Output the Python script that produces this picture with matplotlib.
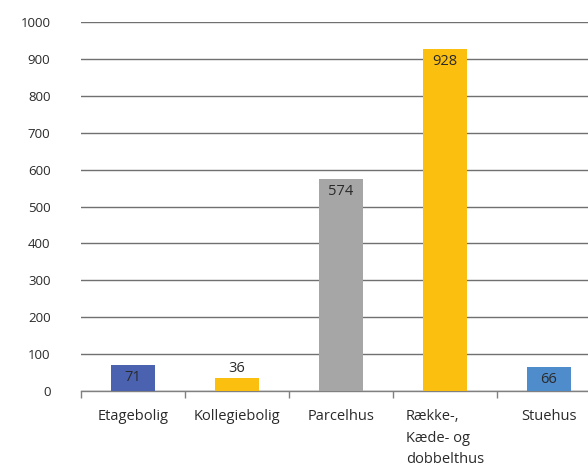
import matplotlib
matplotlib.use("Agg")
import matplotlib.pyplot as plt

categories = ["Etagebolig", "Kollegiebolig", "Parcelhus", "Række-,\nKæde- og\ndobbelthus", "Stuehus"]
values = [71, 36, 574, 928, 66]
colors = ["#4a62b0", "#fbbf10", "#a6a6a6", "#fbbf10", "#4f8ccb"]
yticks = [0, 100, 200, 300, 400, 500, 600, 700, 800, 900, 1000]

plt.rcParams['font.family'] = ['Open Sans', 'DejaVu Sans']

fig = plt.figure(figsize=(5.88, 4.74), dpi=100)
W, H = 588, 474
ax = fig.add_axes([81 / W, (474 - 391) / H, 520 / W, 369 / H])

x = list(range(len(categories)))
ax.bar(x, values, width=0.42, color=colors, zorder=3)

ax.set_xlim(-0.5, len(categories) - 0.5)
ax.set_ylim(0, 1000)
ax.set_yticks(yticks)
ax.set_yticklabels([str(t) for t in yticks], fontsize=9.5, color="#2a2a2a")
ax.yaxis.grid(True, color="#707070", linewidth=1.0, zorder=0)
ax.tick_params(axis="y", length=0, pad=22)

for s in ["top", "right", "left"]:
    ax.spines[s].set_visible(False)
ax.spines["bottom"].set_color("#808080")
ax.spines["bottom"].set_linewidth(1.0)

# category boundary ticks
ax.set_xticks([i - 0.5 for i in range(len(categories) + 1)])
ax.set_xticklabels([])
ax.tick_params(axis="x", length=5, color="#808080", width=1.0)

for i, c in enumerate(categories):
    ax.text(i, -50, c, ha="center", va="top", multialignment="left",
            fontsize=10.5, color="#2a2a2a", linespacing=1.55)

for i, v in enumerate(values):
    if v > 50:
        ax.text(i, v - 14, str(v), ha="center", va="top", fontsize=10.5, color="#2a2a2a", zorder=4)
    else:
        ax.text(i, v + 6, str(v), ha="center", va="bottom", fontsize=10.5, color="#2a2a2a", zorder=4)

fig.savefig("out.png", dpi=100)
